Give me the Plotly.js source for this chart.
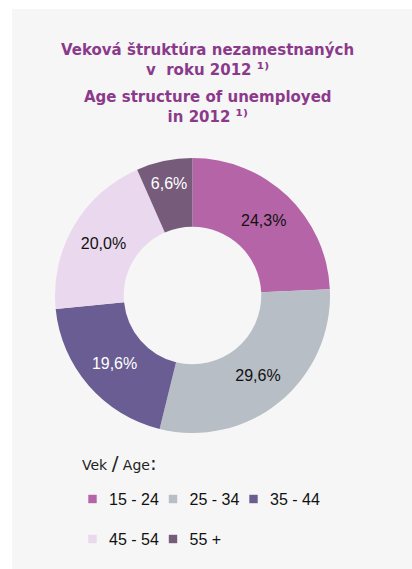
<!DOCTYPE html>
<html>
<head>
<meta charset="utf-8">
<script src="https://cdn.plot.ly/plotly-3.0.1.min.js"></script>
<style>
html, body { margin: 0; padding: 0; background: #ffffff; }
#chart { position: absolute; left: 12px; top: 9px; width: 400px; height: 560px; }
#chart path.legendpie { transform: translate(23.5px, 5.4px) scale(0.7); }
#chart g.legend g.scrollbox { clip-path: none !important; }
</style>
</head>
<body>
<div id="chart"></div>
<script>
// ---- data ----
var ageGroups = ['15 - 24', '25 - 34', '35 - 44', '45 - 54', '55 +'];
var shares = [24.3, 29.6, 19.6, 20.0, 6.6];
var sliceColors = ['#b565a7', '#b8bec6', '#6a5d93', '#ead9ee', '#765b7b'];
var labelColors = ['#111111', '#111111', '#ffffff', '#111111', '#ffffff'];
var noteMark = '<span style="font-size:17px">\u00b9\u207e</span>';
var titleSk = 'Veková štruktúra nezamestnaných<br>v\u00a0 roku 2012 ' + noteMark;
var titleEn = 'Age structure of unemployed<br>in 2012 ' + noteMark;
var legendTitle = 'Vek <span style="font-size:20px">/</span> Age<span style="font-size:20px">:</span>';

// ---- geometry (page pixels -> paper fractions) ----
var OX = 12, OY = 9;           // div offset on page
var W = 400, H = 560;          // figure size
var M = {l: 43, r: 82, t: 149, b: 0};
var PW = W - M.l - M.r, PH = H - M.t - M.b;
function px(x) { return (x - OX - M.l) / PW; }
function py(y) { return (OY + H - M.b - y) / PH; }

var trace = {
  type: 'pie',
  labels: ageGroups.map(function (a) { return '<span style="font-size:16px">' + a + '</span>'; }),
  values: shares,
  sort: false,
  direction: 'clockwise',
  rotation: 0,
  hole: 0.5,
  domain: {x: [0, 1], y: [1 - PW / PH, 1]},
  marker: {colors: sliceColors, line: {width: 0}},
  textposition: 'inside',
  insidetextorientation: 'horizontal',
  texttemplate: '%{value:.1f}%',
  textfont: {family: 'Liberation Sans, Arial, sans-serif', size: 16, color: labelColors},
  hoverinfo: 'label+percent'
};

var layout = {
  width: W, height: H,
  margin: {l: M.l, r: M.r, t: M.t, b: M.b, pad: 0},
  paper_bgcolor: '#f6f6f6',
  plot_bgcolor: 'rgba(0,0,0,0)',
  separators: ',.',
  showlegend: true,
  legend: {
    orientation: 'h',
    x: px(69), xanchor: 'left',
    y: py(468.6), yanchor: 'top',
    entrywidth: 35.5, entrywidthmode: 'pixels',
    font: {family: 'Liberation Sans, Arial, sans-serif', size: 28.46, color: '#111111'},
    bgcolor: 'rgba(0,0,0,0)'
  },
  annotations: [
    {text: titleSk, xref: 'paper', yref: 'paper', x: px(207.5), y: py(59.5),
     xanchor: 'center', yanchor: 'middle', showarrow: false, align: 'center',
     font: {family: 'DejaVu Sans, Verdana, sans-serif', size: 15, color: '#8b3a8b', weight: 'bold'}},
    {text: titleEn, xref: 'paper', yref: 'paper', x: px(207.5), y: py(106.5),
     xanchor: 'center', yanchor: 'middle', showarrow: false, align: 'center',
     font: {family: 'DejaVu Sans, Verdana, sans-serif', size: 15, color: '#8b3a8b', weight: 'bold'}},
    {text: legendTitle, xref: 'paper', yref: 'paper', x: px(80), y: py(463),
     xanchor: 'left', yanchor: 'middle', showarrow: false, align: 'left',
     font: {family: 'DejaVu Sans, Verdana, sans-serif', size: 14, color: '#222222'}}
  ]
};

Plotly.newPlot('chart', [trace], layout, {displayModeBar: false, staticPlot: true});
</script>
</body>
</html>
